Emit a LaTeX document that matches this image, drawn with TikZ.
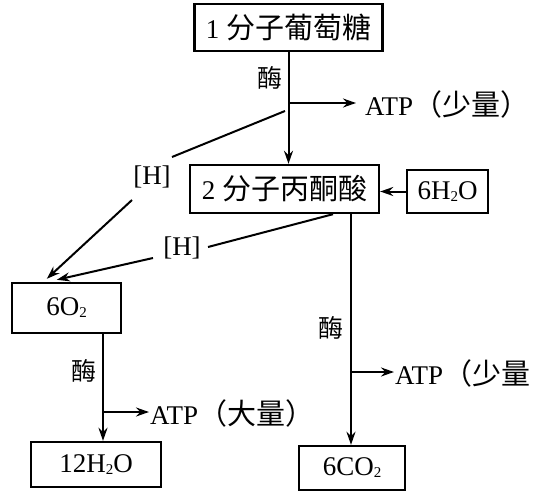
\documentclass[tikz,border=0pt]{standalone}
\usepackage{fontspec}
\setmainfont{Liberation Serif}
\newfontfamily\cjk{Noto Sans CJK SC}
\usetikzlibrary{arrows.meta}
\newcommand{\subtwo}{\raisebox{-2pt}{\fontsize{15}{15}\selectfont 2}}
\newcommand{\zh}[1]{{\cjk\fontsize{29}{29}\selectfont #1}}
\begin{document}
\begin{tikzpicture}[x=1pt,y=-1pt,
  box/.style={draw, line width=2.4pt, inner sep=0pt, font=\fontsize{27}{27}\selectfont},
  lbl/.style={inner sep=0pt, font=\fontsize{27}{27}\selectfont},
  enz/.style={inner sep=0pt, font=\cjk\fontsize{25}{25}\selectfont},
  conn/.style={line width=2pt},
  arr/.style={conn, -{Stealth[length=13pt,width=9pt]}},
]
\useasboundingbox (0,0) rectangle (545,500);
% boxes
\node[box, minimum width=188pt, minimum height=47pt] (glu) at (288.5,27.5) {1 \zh{分子葡萄糖}};
\node[box, minimum width=189pt, minimum height=48pt] (pyr) at (284.5,189) {2 \zh{分子丙酮酸}};
\node[box, minimum width=81pt, minimum height=43pt] (w) at (447.5,191.5) {6H\subtwo O};
\node[box, minimum width=109pt, minimum height=50pt] (o2) at (66.5,308) {6O\subtwo};
\node[box, minimum width=130pt, minimum height=45pt] (wat) at (96,464.5) {12H\subtwo O};
\node[box, minimum width=106pt, minimum height=44pt] (co2) at (352,468) {\raisebox{-6pt}{6CO\subtwo}};
% labels
\node[enz] (e1) at (270,78) {酶};
\node[enz] (e2) at (84,371) {酶};
\node[enz] (e3) at (331,328) {酶};
\node[lbl, anchor=west] (atp1) at (365,104) {ATP\zh{（少量）}};
\node[lbl, anchor=west] (atp2) at (150,413) {ATP\zh{（大量）}};
\node[lbl, anchor=west] (atp3) at (395,373) {ATP\zh{（少量}};
\node[lbl] (H1) at (152,177) {[H]};
\node[lbl] (H2) at (182,248) {[H]};
% main arrows
\draw[arr] (glu.south) -- (glu.south |- pyr.north);
\draw[arr] (w.west) -- (w.west -| pyr.east);
\draw[arr] ([xshift=36.5pt]o2.south) -- ([xshift=36.5pt]o2.south |- wat.north);
\draw[arr] ([xshift=66.5pt]pyr.south) -- ([xshift=66.5pt]pyr.south |- co2.north);
% ATP branches
\coordinate (b1) at (288,103);
\coordinate (b2) at (103,412);
\coordinate (b3) at (351,372);
\draw[arr, shorten >=9pt] (b1) -- (b1 -| atp1.west);
\draw[arr, shorten >=1pt] (b2) -- (b2 -| atp2.west);
\draw[arr, shorten >=1pt] (b3) -- (b3 -| atp3.west);
% [H] connectors
\coordinate (h1s) at (285,111);
\coordinate (h1a) at (172,157);
\coordinate (h1b) at (132,200);
\draw[conn] (h1s) -- (h1a);
\draw[arr] (h1b) -- ([xshift=36pt,yshift=3pt]o2.north west);
\coordinate (h2s) at ([xshift=48.5pt]pyr.south);
\coordinate (h2a) at (208,247);
\coordinate (h2b) at (153,258);
\draw[conn] (h2s) -- (h2a);
\draw[arr] (h2b) -- ([xshift=46pt,yshift=2pt]o2.north west);
\end{tikzpicture}
\end{document}
